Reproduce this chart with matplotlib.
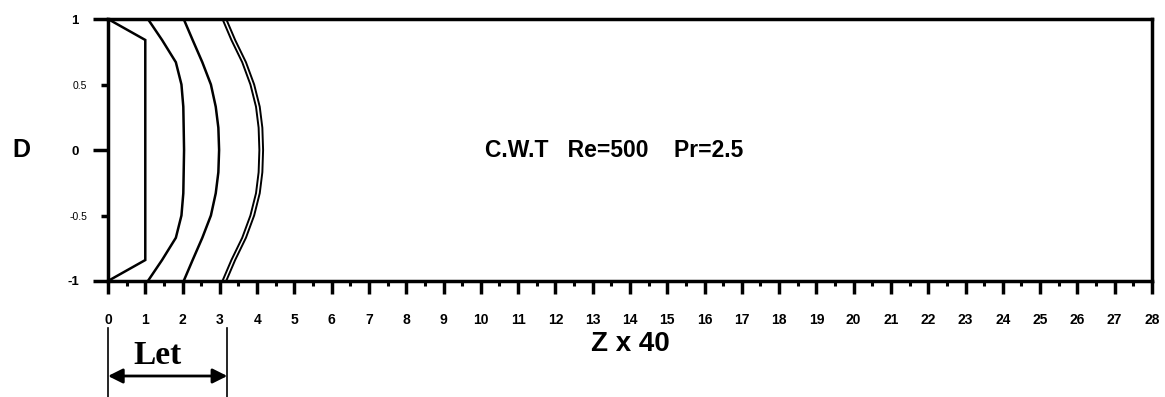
import numpy as np
import matplotlib
matplotlib.use("Agg")
import matplotlib.pyplot as plt
import matplotlib.transforms as mtrans

plt.rcParams['font.family'] = ['Liberation Sans', 'DejaVu Sans']

# radial positions shared by every profile (top wall to bottom wall)
eta = [1.0, 0.84, 0.67, 0.5, 0.33, 0.17, 0.0, -0.17, -0.33, -0.5, -0.67, -0.84, -1.0]

# axial position of each profile at the eta points
z_prof1 = [0.0, 1.0, 1.0, 1.0, 1.0, 1.0, 1.0, 1.0, 1.0, 1.0, 1.0, 1.0, 0.0]
z_prof2 = [1.07, 1.45, 1.82, 1.97, 2.02, 2.03, 2.04, 2.03, 2.02, 1.97, 1.82, 1.45, 1.07]
z_prof3 = [2.03, 2.27, 2.53, 2.76, 2.89, 2.96, 2.98, 2.96, 2.89, 2.76, 2.53, 2.27, 2.03]
z_prof4a = [3.07, 3.31, 3.60, 3.82, 3.97, 4.04, 4.06, 4.04, 3.97, 3.82, 3.60, 3.31, 3.07]
z_prof4b = [3.17, 3.41, 3.70, 3.92, 4.07, 4.14, 4.16, 4.14, 4.07, 3.92, 3.70, 3.41, 3.17]

x_major = list(range(0, 29))
y_major = [-1, 0, 1]
y_minor = [-0.5, 0.5]
let_end = 3.2   # entrance length

fig = plt.figure(figsize=(11.65, 3.97), dpi=100)
ax = fig.add_axes([0.0927, 0.2922, 0.8961, 0.6599])

for z in (z_prof1, z_prof2, z_prof3):
    ax.plot(z, eta, color='black', lw=1.8, solid_joinstyle='miter')
ax.plot(z_prof4a, eta, color='black', lw=1.4)
ax.plot(z_prof4b, eta, color='black', lw=1.4)

ax.set_xlim(0, 28)
ax.set_ylim(-1, 1)

for s in ax.spines.values():
    s.set_linewidth(2.5)

ax.set_xticks(x_major)
ax.set_xticklabels([str(v) for v in x_major], fontweight='bold', fontsize=10)
ax.set_xticks(np.arange(0.5, 28, 1.0), minor=True)
ax.tick_params(axis='x', which='major', direction='out', length=9, width=2.5, pad=14)
ax.tick_params(axis='x', which='minor', direction='out', length=3.8, width=2.2)

ax.set_yticks(y_major)
ax.set_yticklabels([str(v) for v in y_major], fontweight='bold', fontsize=9.5)
ax.set_yticks(y_minor, minor=True)
ax.set_yticklabels([str(v) for v in y_minor], minor=True, fontsize=7.5)
ax.tick_params(axis='y', which='major', direction='out', length=11, width=2.5, pad=10)
ax.tick_params(axis='y', which='minor', direction='out', length=5, width=2.5, pad=10)

ax.text(10.1, 0, 'C.W.T   Re=500    Pr=2.5', fontsize=16.5, fontweight='bold',
        ha='left', va='center')

fig.text(21.7 / 1165, 1 - 150 / 397, 'D', fontsize=18, fontweight='bold',
         ha='center', va='center')
fig.text(630 / 1165, 1 - 344 / 397, 'Z x 40', fontsize=20, fontweight='bold',
         ha='center', va='center')

# entrance length marker below the axis
blend = mtrans.blended_transform_factory(ax.transData, fig.transFigure)
for xv in (0, let_end):
    ax.plot([xv, xv], [1 - 328 / 397, 0], color='black', lw=1.2,
            transform=blend, clip_on=False)
ax.annotate('', xy=(0, 1 - 376 / 397), xytext=(let_end, 1 - 376 / 397),
            xycoords=('data', 'figure fraction'),
            textcoords=('data', 'figure fraction'),
            arrowprops=dict(arrowstyle='<|-|>', color='black', lw=2,
                            mutation_scale=22, shrinkA=0, shrinkB=0))
ax.annotate('Let', xy=(1.33, 1 - 356 / 397), xycoords=('data', 'figure fraction'),
            ha='center', va='center', fontsize=24, fontweight='bold',
            family='Liberation Serif')

fig.savefig('out.png', dpi=100)
